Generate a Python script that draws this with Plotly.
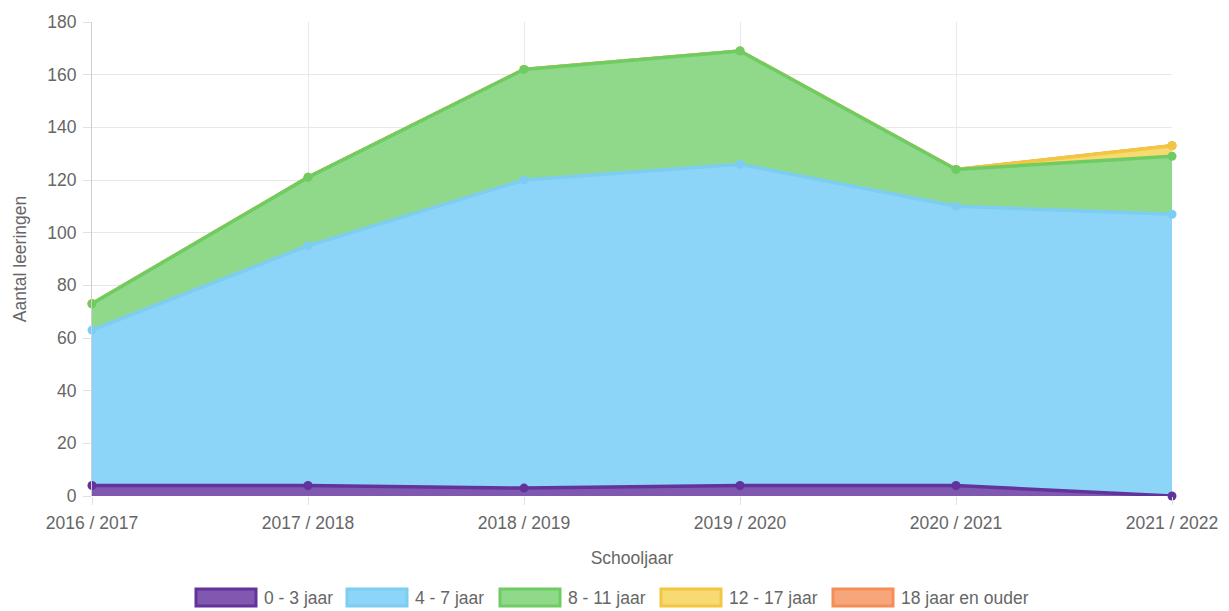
import numpy as np
import plotly.graph_objects as go

schooljaren = ["2016 / 2017", "2017 / 2018", "2018 / 2019", "2019 / 2020", "2020 / 2021", "2021 / 2022"]
series_names = ["0 - 3 jaar", "4 - 7 jaar", "8 - 11 jaar", "12 - 17 jaar", "18 jaar en ouder"]
v_0_3 = [4, 4, 3, 4, 4, 0]
v_4_7 = [59, 91, 117, 122, 106, 107]
v_8_11 = [10, 26, 42, 43, 14, 22]
v_12_17 = [0, 0, 0, 0, 0, 4]
v_18 = [0, 0, 0, 0, 0, 0]

fill_colors = ["#8058b0", "#8dd5f8", "#90d98b", "#f8da72", "#f7a67c"]
line_colors = ["#62339a", "#7dcdf3", "#6fcc63", "#f3c640", "#f58d55"]

series = [v_0_3, v_4_7, v_8_11, v_12_17, v_18]
cum = np.cumsum(np.array(series, dtype=float), axis=0)
x = list(range(len(schooljaren)))

W, H = 1229, 611
ML, MR, MT, MB = 92, 57, 22, 115
PW, PH = W - ML - MR, H - MT - MB


def px_x(px):
    return (px - ML) / PW


def px_y(py):
    return (H - MB - py) / PH


fig = go.Figure()
for i in reversed(range(len(series))):
    fig.add_trace(go.Scatter(
        x=x, y=cum[i], name=series_names[i], mode="lines+markers",
        fill="tozeroy", fillcolor=fill_colors[i],
        line=dict(color=line_colors[i], width=3.5),
        marker=dict(color=line_colors[i], size=9),
        cliponaxis=False, hoverinfo="skip", showlegend=False,
    ))

font = "Liberation Sans, Arial, Helvetica, sans-serif"
FS = 17.5

# legend drawn as boxes + text below the chart
legend_box_left = [196, 347, 500, 661, 833]
box_w, box_top, box_bot = 60, 589, 606
shapes = []
annotations = []
for i, name in enumerate(series_names):
    x0 = legend_box_left[i]
    shapes.append(dict(type="rect", xref="paper", yref="paper",
                       x0=px_x(x0), x1=px_x(x0 + box_w),
                       y0=px_y(box_bot), y1=px_y(box_top),
                       fillcolor=fill_colors[i], line=dict(color=line_colors[i], width=3)))
    annotations.append(dict(xref="paper", yref="paper", x=px_x(x0 + box_w + 6),
                            y=px_y((box_top + box_bot) / 2), xanchor="left", yanchor="middle",
                            text=name, showarrow=False,
                            font=dict(family=font, size=FS, color="#666666")))

fig.update_layout(
    width=W, height=H,
    margin=dict(l=ML, r=MR, t=MT, b=MB, autoexpand=False),
    paper_bgcolor="white", plot_bgcolor="white",
    font=dict(family=font, size=FS, color="#666666"),
    showlegend=False,
    shapes=shapes, annotations=annotations,
    xaxis=dict(
        range=[0, 5], tickvals=x, ticktext=schooljaren, automargin=False,
        showgrid=True, gridcolor="#e8e8e8", gridwidth=1,
        ticks="outside", ticklen=8, tickcolor="#e0e0e0", ticklabelstandoff=3,
        showline=False, zeroline=False,
        title=dict(text="Schooljaar", font=dict(size=FS, color="#666666"), standoff=19),
        tickfont=dict(size=FS, color="#666666"),
    ),
    yaxis=dict(
        range=[0, 180], dtick=20, automargin=False,
        showgrid=True, gridcolor="#e8e8e8", gridwidth=1,
        ticks="outside", ticklen=8, tickcolor="#e0e0e0", ticklabelstandoff=3,
        showline=True, linecolor="#cfcfcf", zeroline=False,
        title=dict(text="Aantal leeringen", font=dict(size=FS, color="#666666"), standoff=16),
        tickfont=dict(size=FS, color="#666666"),
    ),
)

fig.write_html("out.html", config={"displayModeBar": False},
               post_script="document.body.style.margin='0px';")
